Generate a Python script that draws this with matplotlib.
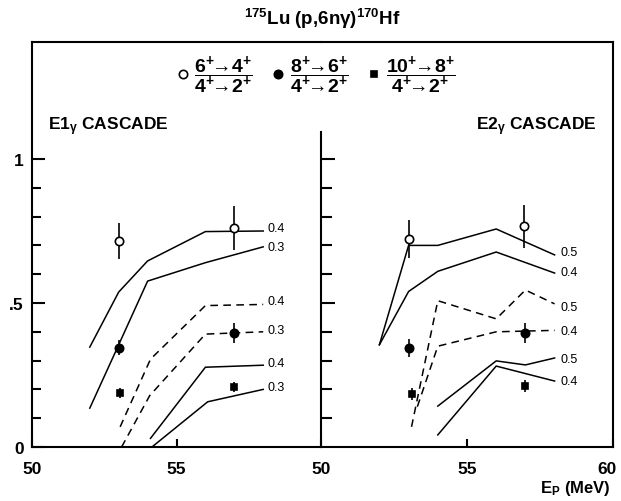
import numpy as np
import matplotlib.pyplot as plt
import matplotlib.transforms as mtrans
from matplotlib.ticker import FixedLocator

plt.rcParams['font.family'] = ['Liberation Sans', 'DejaVu Sans']
plt.rcParams['font.weight'] = 'bold'
plt.rcParams['mathtext.fontset'] = 'custom'
plt.rcParams['mathtext.rm'] = 'Liberation Sans:bold'
plt.rcParams['mathtext.it'] = 'Liberation Sans:bold'
plt.rcParams['mathtext.bf'] = 'Liberation Sans:bold'

### measured ratios, E1 cascade
e1_open_x = [53, 57]
e1_open_y = [0.715, 0.760]
e1_open_err = [0.063, 0.077]
e1_fill_x = [53, 57]
e1_fill_y = [0.345, 0.396]
e1_fill_err = [0.025, 0.035]
e1_sq_x = [53.05, 57]
e1_sq_y = [0.188, 0.208]
e1_sq_err = [0.017, 0.018]

### measured ratios, E2 cascade
e2_open_x = [53, 56.95]
e2_open_y = [0.722, 0.767]
e2_open_err = [0.065, 0.075]
e2_fill_x = [53, 57]
e2_fill_y = [0.344, 0.396]
e2_fill_err = [0.03, 0.035]
e2_sq_x = [53.1, 57]
e2_sq_y = [0.184, 0.212]
e2_sq_err = [0.02, 0.02]

### calculated curves (energy, ratio, label, linestyle)
e1_curves = [
    ([52, 53, 54, 56, 58], [0.347, 0.538, 0.646, 0.748, 0.750], '0.4', '-'),
    ([52, 53, 54, 56, 58], [0.135, 0.355, 0.576, 0.640, 0.695], '0.3', '-'),
    ([53.05, 54.1, 56, 58], [0.07, 0.305, 0.491, 0.495], '0.4', '--'),
    ([53.1, 54.07, 56, 58], [0.0, 0.178, 0.392, 0.400], '0.3', '--'),
    ([54.1, 56, 58], [0.030, 0.277, 0.284], '0.4', '-'),
    ([54.15, 56.08, 58], [0.0, 0.157, 0.200], '0.3', '-'),
]
e1_label_y = [0.76, 0.694, 0.507, 0.406, 0.292, 0.208]

e2_curves = [
    ([52, 53, 54, 56, 58], [0.355, 0.700, 0.700, 0.757, 0.667], '0.5', '-'),
    ([52, 53, 54, 56, 58], [0.355, 0.540, 0.610, 0.677, 0.604], '0.4', '-'),
    ([53.1, 54, 56, 57, 58], [0.07, 0.508, 0.445, 0.545, 0.497], '0.5', '--'),
    ([53.3, 54, 56, 58], [0.14, 0.350, 0.400, 0.405], '0.4', '--'),
    ([54, 56, 57, 58], [0.142, 0.299, 0.285, 0.309], '0.5', '-'),
    ([54, 56, 58], [0.042, 0.281, 0.229], '0.4', '-'),
]
e2_label_y = [0.677, 0.608, 0.486, 0.403, 0.306, 0.229]

legend_labels = [r'$\dfrac{6^{+}\!\!\rightarrow\!4^{+}}{4^{+}\!\!\rightarrow\!2^{+}}$',
                 r'$\dfrac{8^{+}\!\!\rightarrow\!6^{+}}{4^{+}\!\!\rightarrow\!2^{+}}$',
                 r'$\dfrac{10^{+}\!\!\rightarrow\!8^{+}}{4^{+}\!\!\rightarrow\!2^{+}}$']

W, H = 621, 502
fig = plt.figure(figsize=(W/100, H/100), dpi=100)
bot = (H - 448)/H
top_y = (448 - 43)/288.  # frame top in data units
ax1 = fig.add_axes([32/W, bot, 289/W, (448 - 43)/H])
ax2 = fig.add_axes([321/W, bot, 292/W, (448 - 43)/H])

dash = (0, (5, 3.5))
for ax, curves, lab_y, lab_x in [(ax1, e1_curves, e1_label_y, 58.15), (ax2, e2_curves, e2_label_y, 58.2)]:
    for (x, y, lab, ls), ly in zip(curves, lab_y):
        ax.plot(x, y, color='black', lw=1.1, linestyle=dash if ls == '--' else '-')
        ax.text(lab_x, ly, lab, fontsize=9, fontweight='normal', ha='left', va='center')
    ax.set_xlim(50, 60)
    ax.set_ylim(0, top_y)
    for s in ax.spines.values():
        s.set_linewidth(1.5)

def points(ax, x, y, err, marker, face, ms):
    ax.errorbar(x, y, yerr=err, fmt='none', ecolor='black', elinewidth=1.2, capsize=0)
    h, = ax.plot(x, y, linestyle='none', marker=marker, mfc=face, mec='black', mew=1.2, ms=ms)
    return h

h_open = points(ax1, e1_open_x, e1_open_y, e1_open_err, 'o', 'white', 6)
h_fill = points(ax1, e1_fill_x, e1_fill_y, e1_fill_err, 'o', 'black', 6)
h_sq = points(ax1, e1_sq_x, e1_sq_y, e1_sq_err, 's', 'black', 4.5)
points(ax2, e2_open_x, e2_open_y, e2_open_err, 'o', 'white', 6)
points(ax2, e2_fill_x, e2_fill_y, e2_fill_err, 'o', 'black', 6)
points(ax2, e2_sq_x, e2_sq_y, e2_sq_err, 's', 'black', 4.5)

#axes: one shared frame, the middle line stops below the panel titles
ax1.spines['right'].set_visible(False)
ax2.spines['left'].set_bounds(0, 1.095)

minor_y = [0.1, 0.2, 0.3, 0.4, 0.6, 0.7, 0.8, 0.9]
ax1.yaxis.set_major_locator(FixedLocator([0, 0.5, 1]))
ax1.yaxis.set_minor_locator(FixedLocator(minor_y))
ax1.set_yticklabels(['0', '.5', '1'])
ax1.tick_params(axis='y', which='major', direction='in', length=9, width=1.5, pad=6, labelsize=12.5)
ax1.tick_params(axis='y', which='minor', direction='in', length=6.5, width=1.5)
ax2.yaxis.set_major_locator(FixedLocator([0.5, 1]))
ax2.yaxis.set_minor_locator(FixedLocator(minor_y))
ax2.tick_params(axis='y', which='major', direction='in', length=10, width=1.5, labelleft=False)
ax2.tick_params(axis='y', which='minor', direction='in', length=8, width=1.5)

ax1.set_xticks([50, 55])
ax2.set_xticks([50, 55, 60])
for ax in (ax1, ax2):
    ax.tick_params(axis='x', direction='in', length=6, width=1.5, pad=10, labelsize=12.5)
# keep the 60 inside the page
lbl60 = ax2.get_xticklabels()[-1]
lbl60.set_horizontalalignment('right')
lbl60.set_transform(lbl60.get_transform() + mtrans.ScaledTranslation(4/100, 0, fig.dpi_scale_trans))

ax1.text(50.55, 1.115, r'E1$_{\gamma}$ CASCADE', fontsize=12.5, ha='left', va='center')
ax2.text(59.45, 1.115, r'E2$_{\gamma}$ CASCADE', fontsize=12.5, ha='right', va='center')
ax2.text(59.9, -0.14, r'E$_{\mathrm{P}}$ (MeV)', fontsize=12, ha='right', va='center')

fig.text(322/W, 1 - 19/H, r'$^{175}$Lu (p,6n$\gamma$)$^{170}$Hf', fontsize=13.5, ha='center', va='center')
fig.legend([h_open, h_fill, h_sq], legend_labels, loc='center', bbox_to_anchor=(316/W, 1 - 76/H),
           ncol=3, frameon=False, handlelength=0.6, handletextpad=0.3, columnspacing=1.0, fontsize=14)

plt.savefig('out.png', dpi=100)
